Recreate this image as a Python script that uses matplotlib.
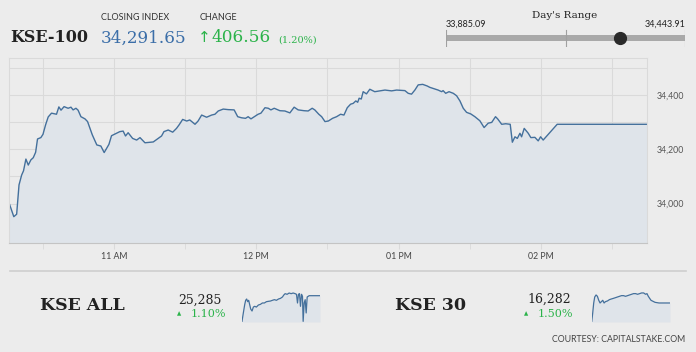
import matplotlib
matplotlib.use('Agg')
import matplotlib.pyplot as plt
from matplotlib.ticker import FixedLocator, FuncFormatter

# KSE-100 intraday, minutes after 10:00 and index value
kse100_min = [15.9, 17.8, 19.0, 20.0, 21.1, 21.9, 22.9, 23.9, 25.0, 26.0, 27.0, 27.8,
              29.2, 30.1, 31.2, 32.3, 33.7, 35.8, 36.8, 37.7, 39.0, 40.7, 41.9, 42.8,
              44.0, 44.9, 46.1, 47.8, 48.9, 50.9, 52.8, 54.5, 55.9, 57.9, 59.0, 61.1,
              62.5, 63.9, 64.9, 66.0, 67.9, 69.6, 71.0, 73.1, 76.6, 78.7, 80.1, 81.1,
              82.9, 84.8, 86.4, 87.5, 89.0, 90.7, 92.0, 94.2, 95.5, 97.0, 99.1, 101.2,
              102.6, 104.0, 106.1, 108.2, 110.7, 112.2, 113.8, 115.5, 116.6, 117.8,
              119.2, 120.8, 122.0, 123.7, 125.1, 126.2, 127.6, 130.0, 132.1, 134.2,
              136.0, 137.7, 140.2, 141.9, 143.6, 144.7, 146.4, 147.6, 149.0, 150.4,
              152.2, 153.9, 155.6, 157.0, 158.4, 159.8, 160.9, 162.0, 162.8, 163.4,
              164.3, 165.1, 166.5, 167.9, 170.0, 172.2, 174.3, 177.1, 179.2, 182.7,
              184.1, 185.5, 186.9, 188.3, 190.2, 192.1, 193.2, 195.3, 196.7, 198.2,
              198.8, 199.9, 201.3, 203.1, 204.5, 205.9, 207.3, 208.7, 210.5, 212.2,
              214.3, 216.1, 217.8, 219.3, 220.9, 221.8, 223.5, 225.2, 227.1, 228.0,
              229.1, 230.1, 231.2, 231.9, 233.0, 234.7, 235.8, 237.5, 238.9, 239.9,
              241.0, 246.9, 284.9]
kse100_val = [34000, 33952, 33961, 34069, 34105, 34121, 34164, 34142, 34161, 34169, 34189, 34238,
              34243, 34255, 34290, 34319, 34333, 34329, 34356, 34344, 34357, 34351, 34355, 34345,
              34351, 34344, 34320, 34312, 34302, 34253, 34216, 34212, 34188, 34218, 34250, 34259,
              34265, 34267, 34249, 34261, 34240, 34234, 34243, 34224, 34227, 34240, 34249, 34265,
              34271, 34263, 34277, 34290, 34310, 34304, 34308, 34292, 34304, 34326, 34318, 34326,
              34329, 34341, 34348, 34346, 34345, 34320, 34316, 34314, 34320, 34312,
              34320, 34329, 34333, 34353, 34351, 34345, 34351, 34342, 34341, 34334,
              34355, 34345, 34342, 34341, 34351, 34345, 34329, 34320, 34302, 34304,
              34314, 34320, 34329, 34326, 34353, 34366, 34369, 34378, 34373, 34388,
              34385, 34412, 34404, 34421, 34412, 34415, 34418, 34415, 34418, 34416,
              34406, 34403, 34418, 34437, 34439, 34433, 34428, 34422, 34418, 34412,
              34416, 34406, 34412, 34406, 34397, 34378, 34351, 34336, 34330, 34320,
              34305, 34280, 34296, 34299, 34320, 34312, 34292, 34294, 34292, 34226,
              34246, 34240, 34259, 34246, 34277, 34259, 34243, 34244, 34231, 34246,
              34234, 34292, 34292]

x_ticks = [60, 120, 180, 240]
x_labels = ['11 AM', '12 PM', '01 PM', '02 PM']
y_ticks = [34000, 34200, 34400]

# small sparklines (minutes after 10:00, index value)
kseall_min = [16, 20.6, 25.3, 28.6, 32.1, 35.6, 39.0, 42.5, 46.0, 50.6, 55.2, 59.8, 65.6,
              72.5, 79.4, 86.3, 93.2, 100.2, 107.1, 114.0, 120.9, 127.8, 134.8, 141.7,
              148.6, 155.5, 160.1, 164.7, 171.6, 178.6, 185.5, 192.4, 199.3, 203.9, 207.4,
              210.8, 214.3, 217.7, 221.2, 224.6, 226.9, 230.4, 233.9, 237.3, 240.8, 247.7, 285]
kseall_val = [25007, 25098, 25188, 25235, 25249, 25220, 25235, 25188, 25141, 25119, 25162,
              25170, 25162, 25184, 25191, 25206, 25206, 25220, 25224, 25227, 25235, 25242,
              25235, 25249, 25256, 25271, 25292, 25307, 25300, 25314, 25307, 25314, 25307,
              25300, 25206, 25300, 25307, 25170, 25300, 25278, 25007, 25206, 25242, 25098,
              25271, 25285, 25285]
kse30_min = [16, 19.5, 22.9, 26.4, 31.0, 35.6, 40.2, 44.8, 49.4, 54.0, 58.6, 63.2, 70.1,
             77.0, 83.9, 90.8, 97.7, 104.6, 111.5, 118.4, 125.3, 132.3, 139.2, 146.1,
             153.0, 159.9, 166.8, 173.7, 180.6, 187.5, 194.4, 201.3, 205.9, 210.5, 215.1,
             219.7, 224.3, 228.9, 233.5, 247.3, 285]
kse30_val = [16000, 16134, 16282, 16371, 16401, 16381, 16322, 16282, 16302, 16322, 16282,
             16302, 16312, 16332, 16342, 16351, 16361, 16371, 16381, 16391, 16391, 16381,
             16391, 16401, 16411, 16421, 16421, 16411, 16421, 16431, 16431, 16411, 16421,
             16381, 16351, 16322, 16312, 16302, 16292, 16282, 16282]

day_low = 33885.09
day_high = 34443.91
close_val = 34291.65

bg = '#ececec'
line_c = '#44709c'
fill_c = '#dfe4ea'
grid_c = '#dadada'
green = '#2bb34a'
dark = '#222222'

W, H = 696, 352
fig = plt.figure(figsize=(W / 100, H / 100), dpi=100, facecolor=bg)


def fx(x):
    return x / W


def fy(y):
    return 1 - y / H


# header texts
fig.text(fx(10), fy(37), 'KSE-100', family='DejaVu Serif', fontsize=11.5,
         weight='bold', color=dark, va='center', ha='left')
fig.text(fx(101), fy(18), 'CLOSING INDEX', family='Lato', fontsize=6.5,
         color='#333333', va='center')
fig.text(fx(101), fy(38), '34,291.65', family='DejaVu Serif', fontsize=12.2,
         color='#3b6ea8', va='center')
fig.text(fx(200), fy(18), 'CHANGE', family='Lato', fontsize=6.5,
         color='#333333', va='center')
fig.text(fx(198), fy(37), '\u2191', family='DejaVu Sans', fontsize=11,
         color=green, va='center')
fig.text(fx(211), fy(38), '406.56', family='DejaVu Serif', fontsize=12.2,
         color=green, va='center')
fig.text(fx(278), fy(40), '(1.20%)', family='DejaVu Serif', fontsize=7,
         color=green, va='center')

# day's range bar
rx0, rx1 = 446, 685
fig.text(fx(565), fy(15), "Day's Range", family='DejaVu Serif', fontsize=7.5,
         color=dark, va='center', ha='center')
fig.text(fx(rx0), fy(24), '{:,.2f}'.format(day_low), family='Lato', fontsize=6.5,
         color=dark, va='center', ha='left')
fig.text(fx(rx1 + 1), fy(24), '{:,.2f}'.format(day_high), family='Lato', fontsize=6.5,
         color=dark, va='center', ha='right')
rax = fig.add_axes([fx(rx0), fy(47), fx(rx1 - rx0), (47 - 29) / H])
rax.set_xlim(day_low, day_high)
rax.set_ylim(0, 1)
rax.axis('off')
rax.axhspan(0.35, 0.65, color='#a9a9a9', lw=0)
for v in [day_low, (day_low + day_high) / 2, day_high]:
    rax.axvline(v, 0.05, 0.95, color='#a0a0a0', lw=0.8)
rax.plot([close_val], [0.5], 'o', ms=8.5, color='#2a2a2a', clip_on=False)

# main chart
ax = fig.add_axes([fx(9.3), fy(243.3), fx(647.3 - 9.3), (243.3 - 58) / H])
ax.set_facecolor(bg)
ax.fill_between(kse100_min, kse100_val, 33854, color=fill_c, lw=0)
ax.plot(kse100_min, kse100_val, color=line_c, lw=1.0)
ax.set_xlim(15.9, 284.9)
ax.set_ylim(33854, 34536)
ax.xaxis.set_major_locator(FixedLocator(x_ticks))
ax.set_xticklabels(x_labels)
ax.xaxis.set_minor_locator(FixedLocator([30, 90, 150, 210, 270]))
ax.yaxis.set_major_locator(FixedLocator(y_ticks))
ax.yaxis.set_minor_locator(FixedLocator([33900, 34100, 34300, 34500]))
ax.yaxis.set_major_formatter(FuncFormatter(lambda v, p: '{:,.0f}'.format(v)))
ax.yaxis.tick_right()
ax.grid(True, which='both', color=grid_c, lw=0.8)
ax.set_axisbelow(True)
ax.tick_params(axis='y', which='both', length=0, pad=7, labelsize=6.3,
               labelcolor='#555555')
ax.tick_params(axis='x', which='both', length=4, color=grid_c, pad=2,
               labelsize=6.3, labelcolor='#444444')
for lab in ax.get_xticklabels() + ax.get_yticklabels():
    lab.set_family('Lato')
for side in ['top', 'right', 'left']:
    ax.spines[side].set_color(grid_c)
    ax.spines[side].set_linewidth(0.8)
ax.spines['bottom'].set_color('#c4c4c4')

# separator line
fig.add_artist(plt.Line2D([fx(10), fx(686)], [fy(271), fy(271)],
                          color='#cfcfcf', lw=1.2))


def spark(x0, x1, lo, hi, mins, vals):
    sax = fig.add_axes([fx(x0), fy(322), fx(x1 - x0), 30 / H])
    sax.fill_between(mins, vals, lo, color=fill_c, lw=0)
    sax.plot(mins, vals, color=line_c, lw=0.9)
    sax.set_xlim(mins[0], mins[-1])
    sax.set_ylim(lo, hi)
    sax.axis('off')


# KSE ALL block
fig.text(fx(40), fy(306), 'KSE ALL', family='DejaVu Serif', fontsize=12.5,
         weight='bold', color=dark, va='center', ha='left')
fig.text(fx(199.5), fy(300), '25,285', family='DejaVu Serif', fontsize=9,
         color=dark, va='center', ha='center')
fig.text(fx(179), fy(314), '\u25b2', family='DejaVu Sans', fontsize=4,
         color=green, va='center', ha='center')
fig.text(fx(191), fy(314), '1.10%', family='DejaVu Serif', fontsize=8,
         color=green, va='center', ha='left')
spark(242, 320, 25000, 25325, kseall_min, kseall_val)

# KSE 30 block
fig.text(fx(395), fy(306), 'KSE 30', family='DejaVu Serif', fontsize=12.5,
         weight='bold', color=dark, va='center', ha='left')
fig.text(fx(549), fy(299), '16,282', family='DejaVu Serif', fontsize=9,
         color=dark, va='center', ha='center')
fig.text(fx(526), fy(314), '\u25b2', family='DejaVu Sans', fontsize=4,
         color=green, va='center', ha='center')
fig.text(fx(538), fy(314), '1.50%', family='DejaVu Serif', fontsize=8,
         color=green, va='center', ha='left')
spark(591.7, 670, 16000, 16445, kse30_min, kse30_val)

fig.text(fx(685), fy(339), 'COURTESY: CAPITALSTAKE.COM', family='Lato', fontsize=6.3,
         color='#444444', va='center', ha='right')

fig.savefig('out.png', dpi=100, facecolor=bg)
